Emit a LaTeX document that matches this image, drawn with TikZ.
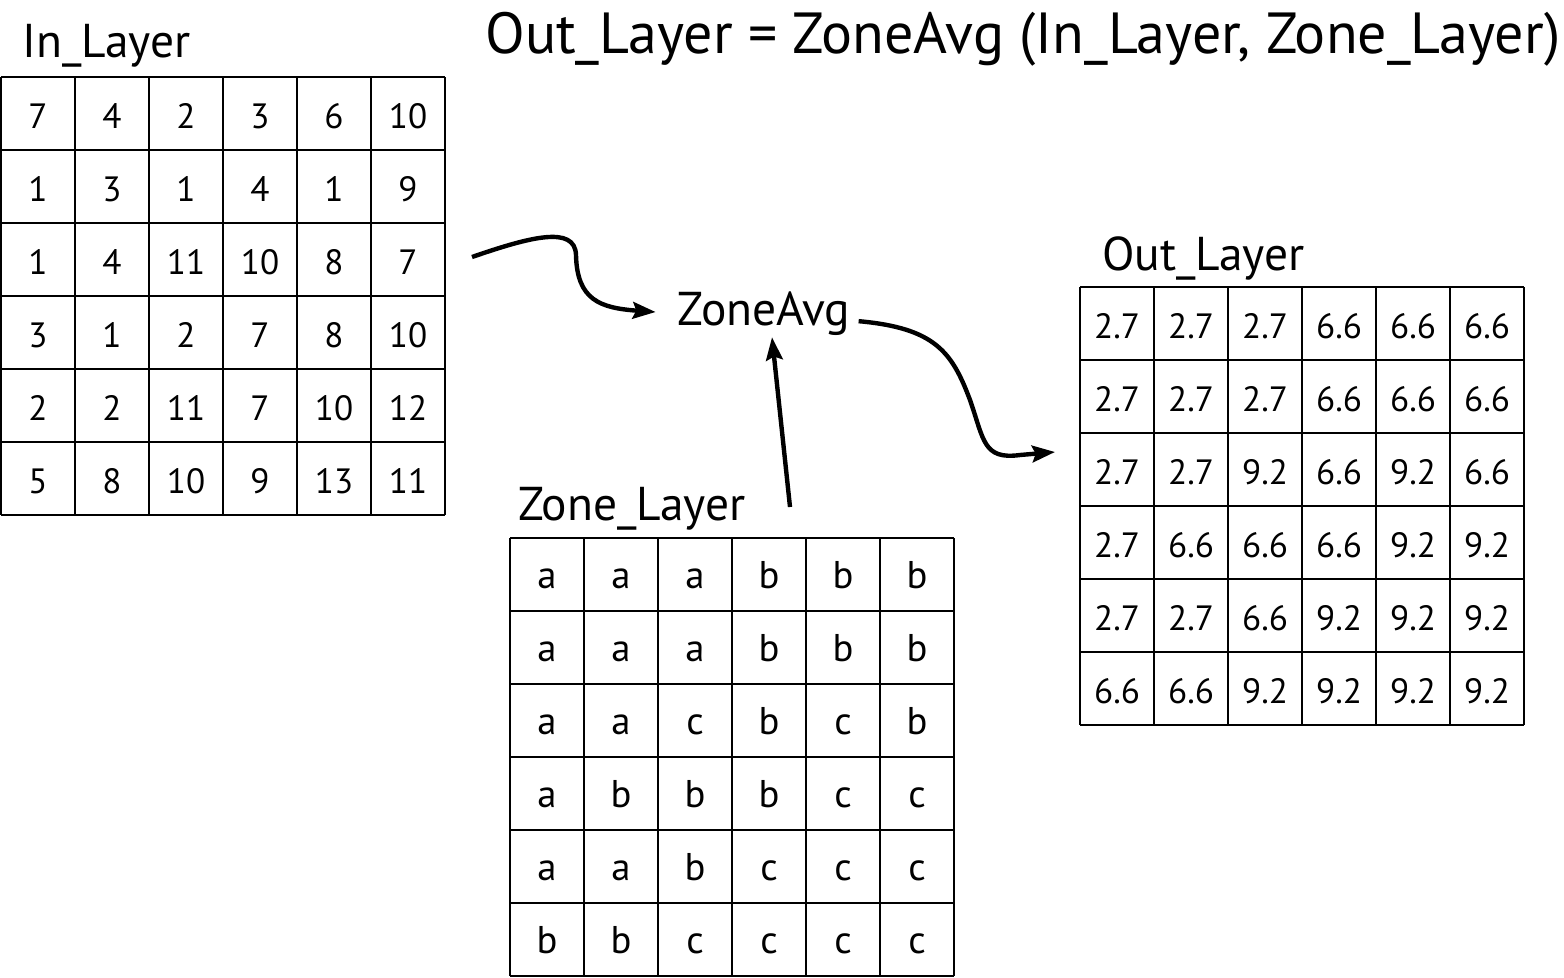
\documentclass[tikz,border=0pt]{standalone}
\usepackage{fontspec}
\setmainfont{PT Sans}
\usetikzlibrary{arrows.meta,calc}
\tikzset{>={Stealth[length=13pt,width=9.5pt,inset=2pt]}}

\begin{document}
\begin{tikzpicture}[x=0.02cm,y=-0.02cm,
    cellline/.style={line width=1.2pt},
    cellnum/.style={font=\fontsize{20}{24}\selectfont, inner sep=0pt, anchor=base},
    celllet/.style={font=\fontsize{22}{26}\selectfont, inner sep=0pt, anchor=base},
    layername/.style={font=\fontsize{27}{32}\selectfont, anchor=base west, inner sep=0pt},
    flow/.style={->, line width=2.5pt}]

  \useasboundingbox (0,0) rectangle (1564,977);

  % Title
  \node[font=\fontsize{33}{39}\selectfont, anchor=base west, inner sep=0pt] (title) at (485,53)
    {Out\_Layer = ZoneAvg (In\_Layer, Zone\_Layer)};

  % Grid lines, one 6x6 grid per layer (top left corner)
  \foreach \gx/\gy in {1/77, 510/538, 1080/287} {
    \foreach \i in {0,...,6} {
      \draw[cellline] (\gx+74*\i,\gy) -- (\gx+74*\i,\gy+438);
      \draw[cellline] (\gx,\gy+73*\i) -- (\gx+444,\gy+73*\i);
    }
  }

  % In_Layer values
  \foreach \row [count=\r] in {{7,4,2,3,6,10},{1,3,1,4,1,9},{1,4,11,10,8,7},
      {3,1,2,7,8,10},{2,2,11,7,10,12},{5,8,10,9,13,11}} {
    \foreach \val [count=\c] in \row {
      \node[cellnum] (in-\r-\c) at (74*\c-36, 73*\r+55) {\val};
    }
  }

  % Zone_Layer zones
  \foreach \row [count=\r] in {{a,a,a,b,b,b},{a,a,a,b,b,b},{a,a,c,b,c,b},
      {a,b,b,b,c,c},{a,a,b,c,c,c},{b,b,c,c,c,c}} {
    \foreach \val [count=\c] in \row {
      \node[celllet] (zone-\r-\c) at (74*\c+473, 73*\r+515) {\val};
    }
  }

  % Out_Layer averages
  \foreach \row [count=\r] in {{2.7,2.7,2.7,6.6,6.6,6.6},{2.7,2.7,2.7,6.6,6.6,6.6},
      {2.7,2.7,9.2,6.6,9.2,6.6},{2.7,6.6,6.6,6.6,9.2,9.2},
      {2.7,2.7,6.6,9.2,9.2,9.2},{6.6,6.6,9.2,9.2,9.2,9.2}} {
    \foreach \val [count=\c] in \row {
      \node[cellnum] (out-\r-\c) at (74*\c+1043, 73*\r+265) {\val};
    }
  }

  % Layer names
  \node[layername] (in-name) at (22,57) {In\_Layer};
  \node[layername] (zone-name) at (518,520) {Zone\_Layer};
  \node[layername] (out-name) at (1102,270) {Out\_Layer};
  \node[font=\fontsize{27}{32}\selectfont, anchor=base] (avg) at (764,325) {ZoneAvg};

  % Arrows
  \coordinate (in-tail) at (472,257);
  \coordinate (zone-tail) at (790,507);
  \coordinate (out-head) at (1055,452);
  \draw[flow, shorten >=9pt] (in-tail) .. controls (530,237) and (575,225) .. (576,255)
    .. controls (577,300) and (600,308) .. (avg.west);
  \draw[flow] (zone-tail) -- ($(avg.south)+(8,-4)$);
  \draw[flow] ($(avg.east)+(2,8)$) .. controls (935,328) and (952,352) .. (970,400)
    .. controls (984,440) and (983,460) .. (1020,455) -- (out-head);

\end{tikzpicture}
\end{document}
